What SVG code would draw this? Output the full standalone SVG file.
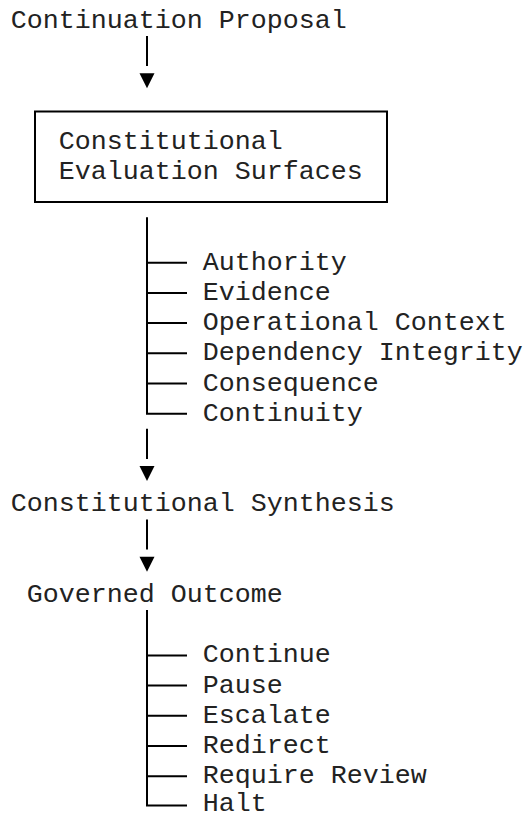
<svg xmlns="http://www.w3.org/2000/svg" width="526" height="813" viewBox="0 0 526 813">
<style>
  .t { font-family: "Courier New", "Liberation Mono", monospace; font-size: 26.667px; fill: #222; }
  .ln { stroke: #000; stroke-width: 2; fill: none; }
  .ar { fill: #000; }
</style>
<defs>
  <polygon id="tri" points="-7.5,0 7.5,0 0,15" class="ar"/>
</defs>
<rect width="526" height="813" fill="#fff"/>
<g id="connectors">
  <line class="ln" x1="147" y1="36" x2="147" y2="66"/>
  <use href="#tri" x="147" y="73.2"/>
  <path class="ln" d="M147 217.3 V413.7 H187 M147 262.7 H187 M147 292.9 H187 M147 323.1 H187 M147 353.3 H187 M147 383.5 H187"/>
  <line class="ln" x1="147" y1="428.7" x2="147" y2="458.9"/>
  <use href="#tri" x="147" y="466"/>
  <line class="ln" x1="147" y1="519.4" x2="147" y2="549.6"/>
  <use href="#tri" x="147" y="556.8"/>
  <path class="ln" d="M147 610 V805.5 H187 M147 655.4 H187 M147 685.6 H187 M147 715.8 H187 M147 746 H187 M147 776.2 H187"/>
</g>
<g id="proposal">
  <text class="t" x="10.8" y="28">Continuation Proposal</text>
</g>
<g id="surfaces">
  <rect class="ln" x="35" y="111.5" width="352" height="90.5"/>
  <text class="t" x="58.8" y="148.8">Constitutional</text>
  <text class="t" x="58.8" y="179">Evaluation Surfaces</text>
</g>
<g id="surface-authority"><text class="t" x="202.8" y="269.7">Authority</text></g>
<g id="surface-evidence"><text class="t" x="202.8" y="299.9">Evidence</text></g>
<g id="surface-operational-context"><text class="t" x="202.8" y="330.1">Operational Context</text></g>
<g id="surface-dependency-integrity"><text class="t" x="202.8" y="360.3">Dependency Integrity</text></g>
<g id="surface-consequence"><text class="t" x="202.8" y="390.5">Consequence</text></g>
<g id="surface-continuity"><text class="t" x="202.8" y="420.7">Continuity</text></g>
<g id="synthesis">
  <text class="t" x="10.8" y="511.4">Constitutional Synthesis</text>
</g>
<g id="outcome">
  <text class="t" x="26.8" y="602">Governed Outcome</text>
</g>
<g id="outcome-continue"><text class="t" x="202.8" y="662.4">Continue</text></g>
<g id="outcome-pause"><text class="t" x="202.8" y="692.6">Pause</text></g>
<g id="outcome-escalate"><text class="t" x="202.8" y="722.8">Escalate</text></g>
<g id="outcome-redirect"><text class="t" x="202.8" y="753">Redirect</text></g>
<g id="outcome-require-review"><text class="t" x="202.8" y="783.2">Require Review</text></g>
<g id="outcome-halt"><text class="t" x="202.8" y="811">Halt</text></g>
</svg>
